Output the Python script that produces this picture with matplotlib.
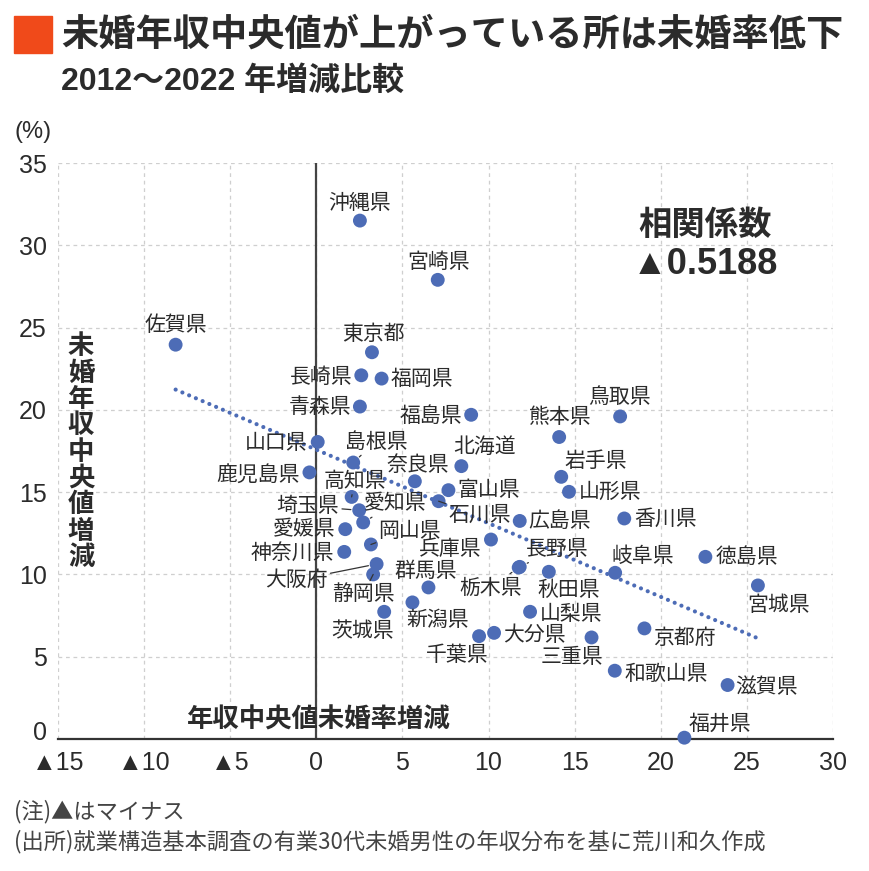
import numpy as np
import matplotlib
matplotlib.use('Agg')
import matplotlib.pyplot as plt
from matplotlib.transforms import ScaledTranslation

plt.rcParams['font.family'] = ['Noto Sans CJK JP', 'DejaVu Sans']
num_font = ['Liberation Sans', 'Noto Sans CJK JP']

# データ（2012～2022年増減、%）
prefs = ['北海道', '青森県', '岩手県', '宮城県', '秋田県', '山形県', '福島県',
         '茨城県', '栃木県', '群馬県', '埼玉県', '千葉県', '東京都', '神奈川県',
         '新潟県', '富山県', '石川県', '福井県', '山梨県', '長野県', '岐阜県',
         '静岡県', '愛知県', '三重県', '滋賀県', '京都府', '大阪府', '兵庫県',
         '奈良県', '和歌山県', '鳥取県', '島根県', '岡山県', '広島県', '山口県',
         '徳島県', '香川県', '愛媛県', '高知県', '福岡県', '佐賀県', '長崎県',
         '熊本県', '大分県', '宮崎県', '鹿児島県', '沖縄県']
# 未婚率増減
mikon_rate = [8.42, 2.53, 14.22, 25.64, 13.50, 14.67, 8.99,
              3.94, 11.75, 6.51, 2.49, 9.45, 3.23, 1.62,
              5.58, 7.67, 7.10, 21.37, 12.41, 11.81, 17.35,
              3.30, 2.72, 15.98, 23.88, 19.05, 3.50, 10.14,
              5.72, 17.33, 17.64, 2.14, 3.17, 11.81, 0.08,
              22.59, 17.88, 1.68, 2.05, 3.79, -8.17, 2.61,
              14.10, 10.32, 7.05, -0.40, 2.53]
# 年収中央値増減
income_med = [16.58, 20.20, 15.93, 9.33, 10.16, 15.02, 19.70,
              7.73, 10.42, 9.21, 13.90, 6.25, 23.50, 11.37,
              8.30, 15.12, 14.45, 0.08, 7.73, 10.46, 10.10,
              10.00, 13.16, 6.17, 3.28, 6.72, 10.63, 12.12,
              15.66, 4.15, 19.60, 16.80, 11.82, 13.25, 18.05,
              11.07, 13.40, 12.75, 14.71, 21.90, 23.96, 22.10,
              18.35, 6.45, 27.90, 16.20, 31.50]

x_ticks = [-15, -10, -5, 0, 5, 10, 15, 20, 25, 30]
x_ticklabels = ['▲15', '▲10', '▲5', '0', '5', '10', '15', '20', '25', '30']
y_ticks = [0, 5, 10, 15, 20, 25, 30, 35]

# ラベル位置 (dx, dy[px, 下向き正], ha, 引き出し線)
label_pos = {
    '北海道': (23, -19, 'center', False), '青森県': (-9, 0, 'right', False),
    '岩手県': (3, -16, 'left', False), '宮城県': (21, 20, 'center', False),
    '秋田県': (20, 18, 'center', False), '山形県': (10, 0, 'left', False),
    '福島県': (-9, 1, 'right', False), '茨城県': (-22, 19, 'center', False),
    '栃木県': (-28, 20, 'center', True), '群馬県': (-3, -16, 'center', False),
    '埼玉県': (-20, -4, 'right', True), '千葉県': (-22, 19, 'center', False),
    '東京都': (1, -18, 'center', False), '神奈川県': (-10, 1, 'right', False),
    '新潟県': (25, 18, 'center', False), '富山県': (9, 0, 'left', False),
    '石川県': (41, 14, 'center', True), '福井県': (36, -14, 'center', False),
    '山梨県': (10, 2, 'left', False), '長野県': (37, -18, 'center', True),
    '岐阜県': (28, -17, 'center', False), '静岡県': (-10, 20, 'center', True),
    '愛知県': (32, -19, 'center', True), '三重県': (-20, 20, 'center', False),
    '滋賀県': (8, 2, 'left', False), '京都府': (9, 10, 'left', False),
    '大阪府': (-49, 16, 'right', True), '兵庫県': (-9, 9, 'right', False),
    '奈良県': (3, -16, 'center', False), '和歌山県': (10, 3, 'left', False),
    '鳥取県': (-1, -19, 'center', False), '島根県': (23, -21, 'center', True),
    '岡山県': (39, -14, 'center', True), '広島県': (9, 0, 'left', False),
    '山口県': (-10, 1, 'right', False), '徳島県': (10, 0, 'left', False),
    '香川県': (10, 0, 'left', False), '愛媛県': (-10, 0, 'right', False),
    '高知県': (3, -16, 'center', True), '福岡県': (9, 0, 'left', False),
    '佐賀県': (0, -20, 'center', False), '長崎県': (-9, 2, 'right', False),
    '熊本県': (0, -20, 'center', False), '大分県': (9, 2, 'left', False),
    '宮崎県': (1, -18, 'center', False), '鹿児島県': (-10, 2, 'right', False),
    '沖縄県': (0, -18, 'center', False),
}

dot_color = '#4d6cb6'
text_color = '#2b2b2b'

fig = plt.figure(figsize=(8.7, 8.71), dpi=100)
W, H = 870, 871
ax = fig.add_axes([58 / W, 1 - 739 / H, (833 - 58) / W, (739 - 163) / H])

ax.set_xlim(-15, 30)
ax.set_ylim(0, 35)
ax.set_xticks(x_ticks)
ax.set_xticklabels(x_ticklabels)
ax.set_yticks(y_ticks)
ax.tick_params(length=0, labelsize=18, colors=text_color)
ax.tick_params(axis='x', pad=9)
ax.tick_params(axis='y', pad=8)
for lab in ax.get_xticklabels() + ax.get_yticklabels():
    lab.set_family(num_font)
ax.grid(True, color='#cfcfcf', linestyle=(0, (3, 3)), linewidth=0.9)
ax.set_axisbelow(True)
for s in ['top', 'right', 'left']:
    ax.spines[s].set_visible(False)
ax.spines['bottom'].set_color('#333333')
ax.spines['bottom'].set_linewidth(1.6)
ax.axvline(0, color='#444444', lw=1.6, zorder=1.5)

# 近似直線
xs = np.array(mikon_rate)
ys = np.array(income_med)
slope, intercept = np.polyfit(xs, ys, 1)
line_x = np.array([xs.min(), xs.max()])
ax.plot(line_x, slope * line_x + intercept, color=dot_color, lw=3,
        linestyle=(0, (0.01, 1.75)), dash_capstyle='round', zorder=2)

ax.scatter(xs, ys, s=100, color=dot_color, zorder=3, clip_on=False,
           edgecolors='none')

for name, x, y in zip(prefs, mikon_rate, income_med):
    dx, dy, ha, leader = label_pos[name]
    arrow = None
    if leader:
        arrow = dict(arrowstyle='-', color='#333333', lw=0.9,
                     shrinkA=0, shrinkB=6)
    ax.annotate(name, (x, y), xytext=(dx, -dy), textcoords='offset pixels',
                ha=ha, va='center', fontsize=15, color=text_color,
                arrowprops=arrow, zorder=4)

# 0のラベルを少し上へ
lab0 = ax.get_yticklabels()[0]
lab0.set_transform(lab0.get_transform() + ScaledTranslation(0, 9 / 100, fig.dpi_scale_trans))

# 相関係数
cx = (705 - 58) / 775
ax.text(cx, 1 - (225 - 163) / 576, '相関係数', transform=ax.transAxes,
        ha='center', va='center', fontsize=24, fontweight='bold', color=text_color)
ax.text(cx, 1 - (264 - 163) / 576, '▲0.5188', transform=ax.transAxes,
        ha='center', va='center', fontsize=26, fontweight='bold', color=text_color,
        family=num_font)

# 軸ラベル
ylab = '未婚年収中央値増減'
for i, ch in enumerate(ylab):
    fig.text(81 / W, 1 - (347 + i * 26.3) / H, ch, ha='center', va='center',
             fontsize=19, fontweight='bold', color=text_color)
fig.text(319 / W, 1 - 720 / H, '年収中央値未婚率増減', ha='center', va='center',
         fontsize=19, fontweight='bold', color=text_color)

# タイトル
fig.patches.append(plt.Rectangle((14 / W, 1 - 53 / H), 38 / W, 37 / H,
                                 transform=fig.transFigure, color='#f04a1a'))
fig.text(61 / W, 1 - 35 / H, '未婚年収中央値が上がっている所は未婚率低下',
         ha='left', va='center', fontsize=26.8, fontweight='bold', color=text_color)
fig.text(61 / W, 1 - 82 / H, '2012～2022 年増減比較', ha='left', va='center',
         fontsize=23, fontweight='bold', color=text_color, family=num_font)
fig.text(15 / W, 1 - 132 / H, '(%)', ha='left', va='center', fontsize=17,
         color=text_color, family=num_font)

# 注記
fig.text(14 / W, 1 - 812 / H, '(注)▲はマイナス', ha='left', va='center',
         fontsize=16, color='#444444')
fig.text(14 / W, 1 - 842 / H, '(出所)就業構造基本調査の有業30代未婚男性の年収分布を基に荒川和久作成',
         ha='left', va='center', fontsize=16, color='#444444')

fig.savefig('out.png', dpi=100)
